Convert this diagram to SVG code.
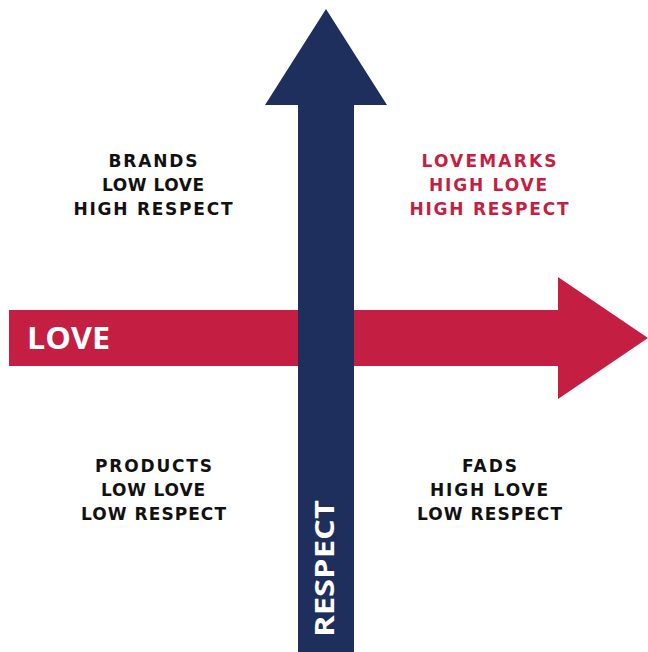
<svg xmlns="http://www.w3.org/2000/svg" width="648" height="652" viewBox="0 0 648 652">
  <style>
    .q { font-family: "DejaVu Sans", "Liberation Sans", sans-serif; font-size: 17px; font-weight: bold; text-anchor: middle; fill: #111111; }
    .q.hl { fill: #C41F43; }
    .axis { font-family: "Open Sans", "Liberation Sans", sans-serif; font-weight: bold; fill: #ffffff; }
  </style>
  <rect width="648" height="652" fill="#ffffff"/>

  <!-- axes -->
  <g id="connectors">
    <g id="love-axis">
      <polygon fill="#C41F43" points="9,310 558,310 558,277 648,338 558,399 558,366 9,366"/>
      <text class="axis" x="27" y="349" font-size="31" textLength="83" lengthAdjust="spacingAndGlyphs">LOVE</text>
    </g>
    <g id="respect-axis">
      <polygon fill="#1E2F5E" points="298,652 298,105 265,105 326,9 387,105 354,105 354,652"/>
      <text class="axis" transform="translate(334,637) rotate(-90)" x="0" y="0" font-size="27" textLength="137" lengthAdjust="spacingAndGlyphs">RESPECT</text>
    </g>
  </g>

  <!-- quadrants -->
  <g id="brands">
    <text class="q" x="153" y="167" textLength="89" lengthAdjust="spacing">BRANDS</text>
    <text class="q" x="153" y="191" textLength="102" lengthAdjust="spacing">LOW LOVE</text>
    <text class="q" x="153" y="215" textLength="159" lengthAdjust="spacing">HIGH RESPECT</text>
  </g>
  <g id="lovemarks">
    <text class="q hl" x="489" y="167" textLength="135" lengthAdjust="spacing">LOVEMARKS</text>
    <text class="q hl" x="488" y="191" textLength="118" lengthAdjust="spacing">HIGH LOVE</text>
    <text class="q hl" x="489" y="215" textLength="159" lengthAdjust="spacing">HIGH RESPECT</text>
  </g>
  <g id="products">
    <text class="q" x="153.5" y="472" textLength="117" lengthAdjust="spacing">PRODUCTS</text>
    <text class="q" x="153" y="496" textLength="104" lengthAdjust="spacing">LOW LOVE</text>
    <text class="q" x="153.5" y="520" textLength="145" lengthAdjust="spacing">LOW RESPECT</text>
  </g>
  <g id="fads">
    <text class="q" x="489.5" y="472" textLength="55" lengthAdjust="spacing">FADS</text>
    <text class="q" x="489" y="496" textLength="118" lengthAdjust="spacing">HIGH LOVE</text>
    <text class="q" x="489.5" y="520" textLength="145" lengthAdjust="spacing">LOW RESPECT</text>
  </g>
</svg>
